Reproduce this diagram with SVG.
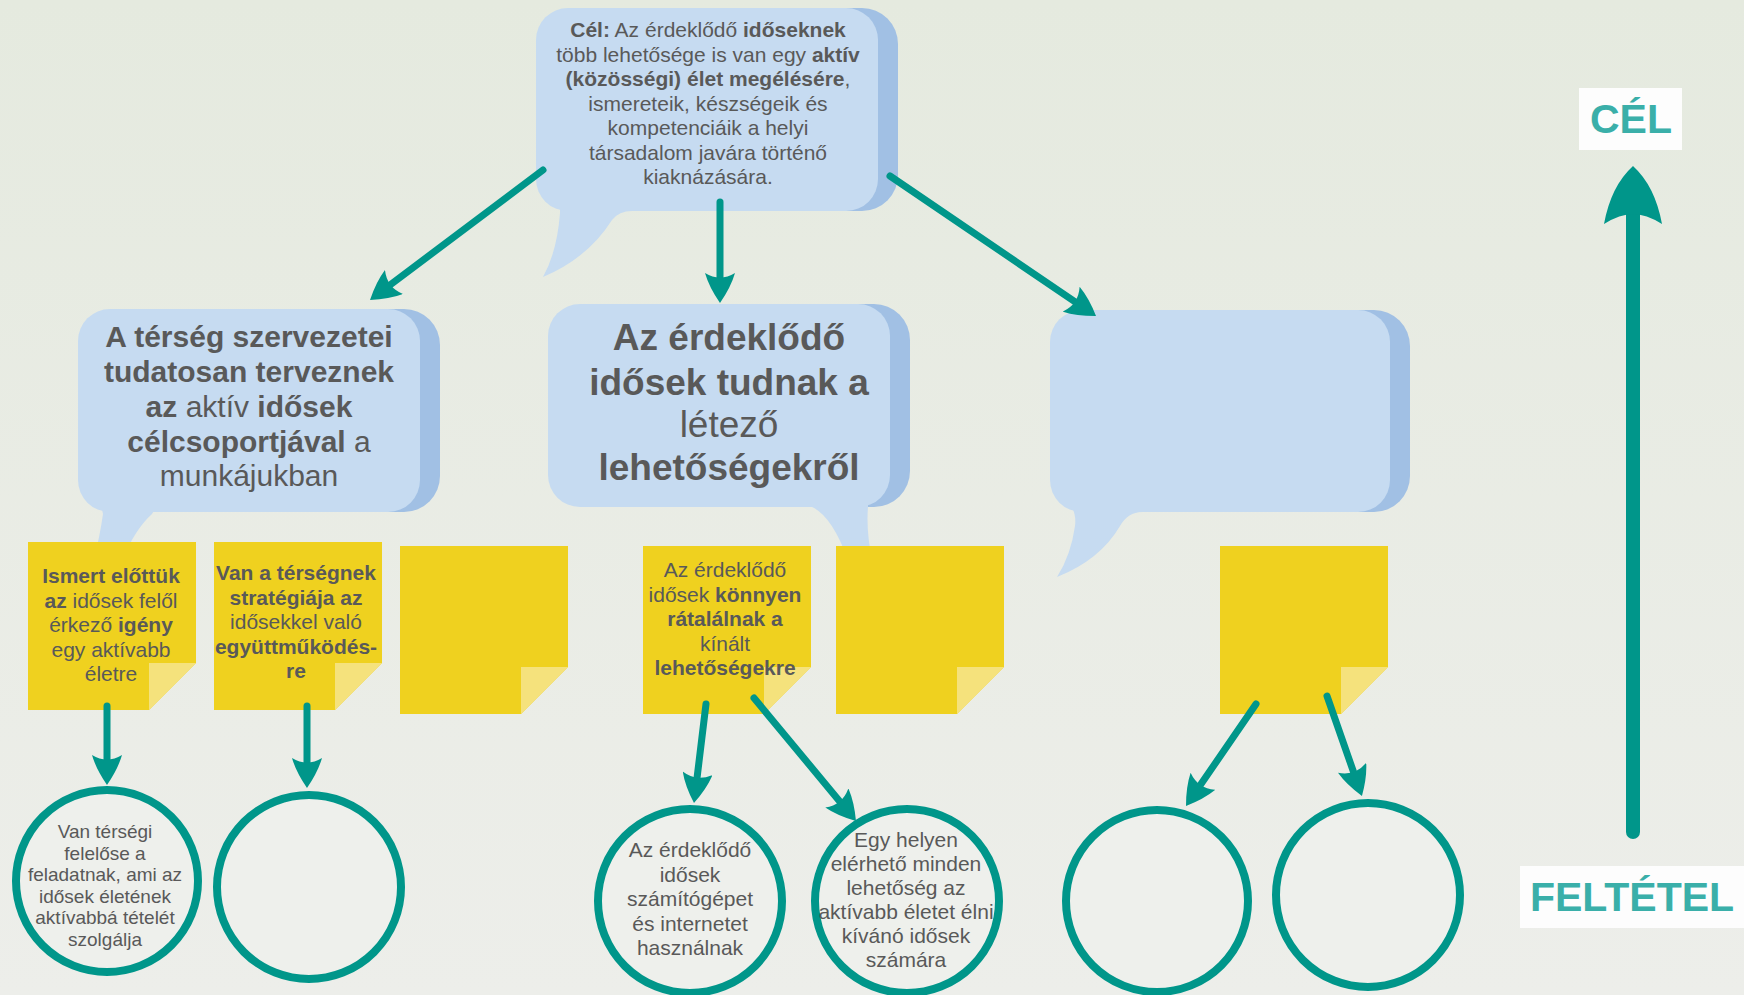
<svg xmlns="http://www.w3.org/2000/svg" width="1744" height="995" viewBox="0 0 1744 995">
<defs>
<linearGradient id="bg" x1="0" y1="0" x2="0" y2="1">
<stop offset="0" stop-color="#e5eadf"/>
<stop offset="1" stop-color="#edeeea"/>
</linearGradient>
<marker id="ah" viewBox="0 0 30 30" markerWidth="30" markerHeight="30" markerUnits="userSpaceOnUse" refX="15" refY="15" orient="auto">
<path d="M30 15 Q14 4 0 0 Q9 15 0 30 Q14 26 30 15 Z" fill="#00968a"/>
</marker>
<style>
.t{font-family:"Liberation Sans",Arial,sans-serif;fill:#595959;text-anchor:middle}
.b{font-weight:bold}
.bub{fill:#c6dbf1}
.sh{fill:#a1c0e4}
.st{fill:#efd11f}
.fold{fill:#f5e27c}
.cir{fill:#eef0ec;stroke:#00968a;stroke-width:8}
.con{stroke:#00968a;stroke-width:7;stroke-linecap:round;fill:none;marker-end:url(#ah)}
.lab{font-family:"Liberation Sans",Arial,sans-serif;font-weight:bold;fill:#3aafa9;text-anchor:middle;font-size:41px}
</style>
</defs>
<rect width="1744" height="995" fill="url(#bg)"/>

<g id="bubble-top">
<rect class="sh" x="556" y="8" width="342" height="203" rx="36"/>
<path class="bub" d="M560 200 L560 213 Q557 252 543 277 Q588 258 612 220 Q619 211 632 211 L640 200 Z"/>
<rect class="bub" x="536" y="8" width="342" height="203" rx="32"/>
<text class="t" font-size="21" x="708" y="37"><tspan class="b">Cél:</tspan> Az érdeklődő <tspan class="b">időseknek</tspan></text>
<text class="t" font-size="21" x="708" y="61.5">több lehetősége is van egy <tspan class="b">aktív</tspan></text>
<text class="t" font-size="21" x="708" y="86"><tspan class="b">(közösségi) élet megélésére</tspan>,</text>
<text class="t" font-size="21" x="708" y="110.5">ismereteik, készségeik és</text>
<text class="t" font-size="21" x="708" y="135">kompetenciáik a helyi</text>
<text class="t" font-size="21" x="708" y="159.5">társadalom javára történő</text>
<text class="t" font-size="21" x="708" y="184">kiaknázására.</text>
</g>

<g id="bubble-left">
<rect class="sh" x="98" y="309" width="342" height="203" rx="36"/>
<path class="bub" d="M100 500 L103 514 Q100 535 94 560 L122 560 Q136 528 152 514 L160 500 Z"/>
<rect class="bub" x="78" y="309" width="342" height="203" rx="32"/>
<text class="t b" font-size="30" x="249" y="347">A térség szervezetei</text>
<text class="t b" font-size="30" x="249" y="382">tudatosan terveznek</text>
<text class="t" font-size="30" x="249" y="417"><tspan class="b">az</tspan> aktív <tspan class="b">idősek</tspan></text>
<text class="t" font-size="30" x="249" y="452"><tspan class="b">célcsoportjával</tspan> a</text>
<text class="t" font-size="30" x="249" y="486">munkájukban</text>
</g>

<g id="bubble-middle">
<rect class="sh" x="568" y="304" width="342" height="203" rx="36"/>
<path class="bub" d="M805 495 L812 507 Q832 516 848 560 L872 560 Q866 530 868 507 L868 495 Z"/>
<rect class="bub" x="548" y="304" width="342" height="203" rx="32"/>
<text class="t b" font-size="37" x="729" y="350">Az érdeklődő</text>
<text class="t b" font-size="37" x="729" y="395">idősek tudnak a</text>
<text class="t" font-size="37" x="729" y="437">létező</text>
<text class="t b" font-size="37" x="729" y="480">lehetőségekről</text>
</g>

<g id="bubble-right">
<rect class="sh" x="1070" y="310" width="340" height="202" rx="36"/>
<path class="bub" d="M1066 500 Q1077 510 1075 526 Q1071 555 1057 577 Q1100 560 1120 526 Q1128 512 1142 512 L1142 500 Z"/>
<rect class="bub" x="1050" y="310" width="340" height="202" rx="32"/>
</g>

<g id="sticky-1">
<path class="st" d="M28 542 h168 v121 l-47 47 h-121 z"/>
<path class="fold" d="M149 663 h47 l-47 47 z"/>
<text class="t b" font-size="21" x="111" y="583">Ismert előttük</text>
<text class="t" font-size="21" x="111" y="607.5"><tspan class="b">az</tspan> idősek felől</text>
<text class="t" font-size="21" x="111" y="632"><tspan>érkező </tspan><tspan class="b">igény</tspan></text>
<text class="t" font-size="21" x="111" y="656.5">egy aktívabb</text>
<text class="t" font-size="21" x="111" y="681">életre</text>
</g>

<g id="sticky-2">
<path class="st" d="M214 542 h168 v121 l-47 47 h-121 z"/>
<path class="fold" d="M335 663 h47 l-47 47 z"/>
<text class="t b" font-size="21" x="296" y="580">Van a térségnek</text>
<text class="t b" font-size="21" x="296" y="604.5">stratégiája az</text>
<text class="t" font-size="21" x="296" y="629">idősekkel való</text>
<text class="t b" font-size="21" x="296" y="653.5">együttműködés-</text>
<text class="t b" font-size="21" x="296" y="678">re</text>
</g>

<g id="sticky-3">
<path class="st" d="M400 546 h168 v121 l-47 47 h-121 z"/>
<path class="fold" d="M521 667 h47 l-47 47 z"/>
</g>

<g id="sticky-4">
<path class="st" d="M643 546 h168 v121 l-47 47 h-121 z"/>
<path class="fold" d="M764 667 h47 l-47 47 z"/>
<text class="t" font-size="21" x="725" y="577">Az érdeklődő</text>
<text class="t" font-size="21" x="725" y="601.5">idősek <tspan class="b">könnyen</tspan></text>
<text class="t b" font-size="21" x="725" y="626">rátalálnak a</text>
<text class="t" font-size="21" x="725" y="650.5">kínált</text>
<text class="t b" font-size="21" x="725" y="675">lehetőségekre</text>
</g>

<g id="sticky-5">
<path class="st" d="M836 546 h168 v121 l-47 47 h-121 z"/>
<path class="fold" d="M957 667 h47 l-47 47 z"/>
</g>

<g id="sticky-6">
<path class="st" d="M1220 546 h168 v121 l-47 47 h-121 z"/>
<path class="fold" d="M1341 667 h47 l-47 47 z"/>
</g>

<g id="circle-1">
<circle class="cir" cx="107" cy="881" r="91"/>
<text class="t" font-size="19" x="105" y="838">Van térségi</text>
<text class="t" font-size="19" x="105" y="859.5">felelőse a</text>
<text class="t" font-size="19" x="105" y="881">feladatnak, ami az</text>
<text class="t" font-size="19" x="105" y="902.5">idősek életének</text>
<text class="t" font-size="19" x="105" y="924">aktívabbá tételét</text>
<text class="t" font-size="19" x="105" y="945.5">szolgálja</text>
</g>

<g id="circle-2">
<circle class="cir" cx="309" cy="887" r="92"/>
</g>

<g id="circle-3">
<circle class="cir" cx="690" cy="901" r="92"/>
<text class="t" font-size="21" x="690" y="857">Az érdeklődő</text>
<text class="t" font-size="21" x="690" y="881.5">idősek</text>
<text class="t" font-size="21" x="690" y="906">számítógépet</text>
<text class="t" font-size="21" x="690" y="930.5">és internetet</text>
<text class="t" font-size="21" x="690" y="955">használnak</text>
</g>

<g id="circle-4">
<circle class="cir" cx="907" cy="901" r="92"/>
<text class="t" font-size="21" x="906" y="847">Egy helyen</text>
<text class="t" font-size="21" x="906" y="871">elérhető minden</text>
<text class="t" font-size="21" x="906" y="895">lehetőség az</text>
<text class="t" font-size="21" x="906" y="919">aktívabb életet élni</text>
<text class="t" font-size="21" x="906" y="943">kívánó idősek</text>
<text class="t" font-size="21" x="906" y="967">számára</text>
</g>

<g id="circle-5">
<circle class="cir" cx="1157" cy="901" r="91"/>
</g>

<g id="circle-6">
<circle class="cir" cx="1368" cy="895" r="92"/>
</g>

<g id="label-cel">
<rect x="1579" y="88" width="103" height="62" fill="#fdfdfd"/>
<text class="lab" x="1631" y="133">CÉL</text>
</g>

<g id="label-feltetel">
<rect x="1520" y="866" width="224" height="62" fill="#fdfdfd"/>
<text class="lab" x="1632" y="911">FELTÉTEL</text>
</g>

<g id="connectors">
<line class="con" x1="543" y1="170" x2="382" y2="291"/>
<line class="con" x1="720" y1="202" x2="720" y2="288"/>
<line class="con" x1="890" y1="176" x2="1083.6" y2="307.6"/>
<line class="con" x1="107" y1="706" x2="107" y2="770"/>
<line class="con" x1="307" y1="706" x2="307" y2="773"/>
<line class="con" x1="706" y1="704" x2="695.8" y2="788.1"/>
<line class="con" x1="754" y1="698" x2="846.4" y2="809.5"/>
<line class="con" x1="1256" y1="704" x2="1194.5" y2="793.6"/>
<line class="con" x1="1327" y1="696" x2="1357" y2="781.9"/>
<line x1="1633" y1="832" x2="1633" y2="212" stroke="#00968a" stroke-width="14" stroke-linecap="round"/>
<path d="M1633 166 Q1655 186 1662 224 Q1646 214 1633 214 Q1620 214 1604 224 Q1611 186 1633 166 Z" fill="#00968a"/>
</g>
</svg>
